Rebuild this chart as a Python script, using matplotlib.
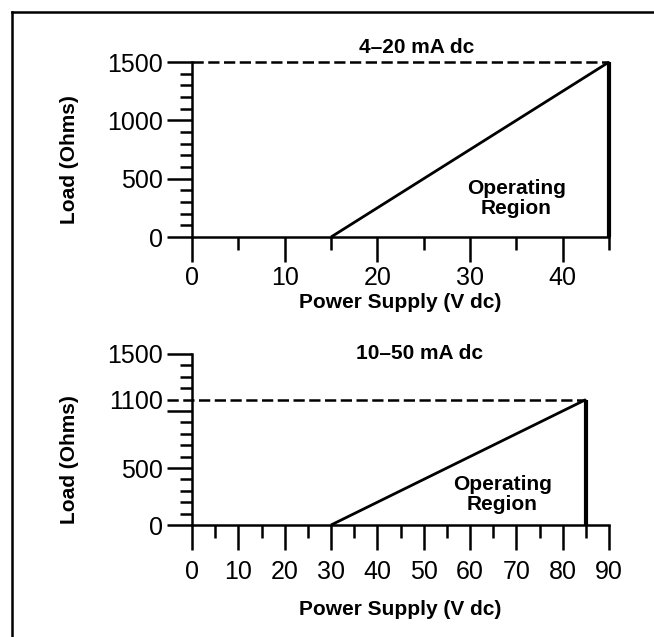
import matplotlib
matplotlib.use('Agg')
import matplotlib.pyplot as plt
from matplotlib.ticker import MultipleLocator
from matplotlib.lines import Line2D

plt.rcParams['font.family'] = ['Liberation Sans', 'DejaVu Sans']

# 4-20 mA chart
top_title = '4\u201320 mA dc'
top_supply = [15, 45]          # V dc
top_load = [0, 1500]           # Ohms
top_xmax = 45
top_xticks = [0, 10, 20, 30, 40]

# 10-50 mA chart
bot_title = '10\u201350 mA dc'
bot_supply = [30, 85]
bot_load = [0, 1100]
bot_xmax = 90
bot_xticks = [0, 10, 20, 30, 40, 50, 60, 70, 80, 90]

xlabel = 'Power Supply (V dc)'
ylabel = 'Load (Ohms)'
region_text = 'Operating\nRegion'

fig = plt.figure(figsize=(6.54, 6.37), dpi=100)

# border (left and top only are inside the picture)
fig.add_artist(Line2D([12/654, 12/654], [0, 1 - 12/637], color='black', lw=1.8,
                      transform=fig.transFigure))
fig.add_artist(Line2D([12/654, 1], [1 - 12/637, 1 - 12/637], color='black', lw=1.8,
                      transform=fig.transFigure))

ax1 = fig.add_axes([0.2936, 0.6279, 0.6376, 0.2747])
ax2 = fig.add_axes([0.2936, 0.1758, 0.6376, 0.2685])


def setup(ax, xmax, xticks, yticks, ylabels, xtpad, xpad, ylab_y):
    ax.set_xlim(0, xmax)
    ax.set_ylim(0, 1500)
    for s in ['top', 'right']:
        ax.spines[s].set_visible(False)
    for s in ['left', 'bottom']:
        ax.spines[s].set_linewidth(1.8)
    ax.set_xticks(xticks)
    ax.xaxis.set_minor_locator(MultipleLocator(5))
    ax.set_yticks(yticks)
    ax.set_yticklabels(ylabels)
    ax.yaxis.set_minor_locator(MultipleLocator(100))
    ax.tick_params(axis='both', which='major', length=18, width=1.8,
                   labelsize=18, pad=3)
    ax.tick_params(axis='x', which='major', pad=xtpad)
    ax.tick_params(axis='both', which='minor', length=9, width=1.8)
    ax.set_xlabel(xlabel, fontsize=15, fontweight='bold', labelpad=xpad)
    ax.set_ylabel(ylabel, fontsize=15, fontweight='bold')
    ax.yaxis.set_label_coords(-0.271, ylab_y)
    ax.patch.set_alpha(0)


setup(ax1, top_xmax, top_xticks, [0, 500, 1000, 1500],
      ['0', '500', '1000', '1500'], 3, 2, 0.44)
setup(ax2, bot_xmax, bot_xticks, [0, 500, 1000, 1100, 1500],
      ['0', '500', '', '1100', '1500'], 7, 12, 0.38)
# no solid tick under the dashed 1100 line
ax2.yaxis.get_major_ticks()[3].tick1line.set_visible(False)

# top chart lines
ax1.plot(top_supply, top_load, color='black', lw=2.0, clip_on=False,
         solid_capstyle='butt')
ax1.plot([top_supply[1], top_supply[1]], [0, top_load[1]], color='black', lw=3.0,
         clip_on=False, solid_capstyle='butt')
ax1.plot([0, top_supply[1]], [top_load[1], top_load[1]], color='black', lw=1.8,
         linestyle=(0, (4.5, 1.8)), clip_on=False)
ax1.text(24.2, 1540, top_title, ha='center', va='bottom', fontsize=15,
         fontweight='bold')
ax1.text(35, 330, region_text, ha='center', va='center', fontsize=15,
         fontweight='bold', linespacing=1.05)

# bottom chart lines
ax2.plot(bot_supply, bot_load, color='black', lw=2.0, clip_on=False,
         solid_capstyle='butt')
ax2.plot([bot_supply[1], bot_supply[1]], [0, bot_load[1]], color='black', lw=3.0,
         clip_on=False, solid_capstyle='butt')
ax2.plot([-bot_xmax * 25 / 417, bot_supply[1]], [bot_load[1], bot_load[1]],
         color='black', lw=1.8, linestyle=(0, (4.5, 1.8)), clip_on=False)
ax2.text(49, 1500, bot_title, ha='center', va='center', fontsize=15,
         fontweight='bold')
ax2.text(67, 265, region_text, ha='center', va='center', fontsize=15,
         fontweight='bold', linespacing=1.05)

fig.savefig('out.png', dpi=100)
